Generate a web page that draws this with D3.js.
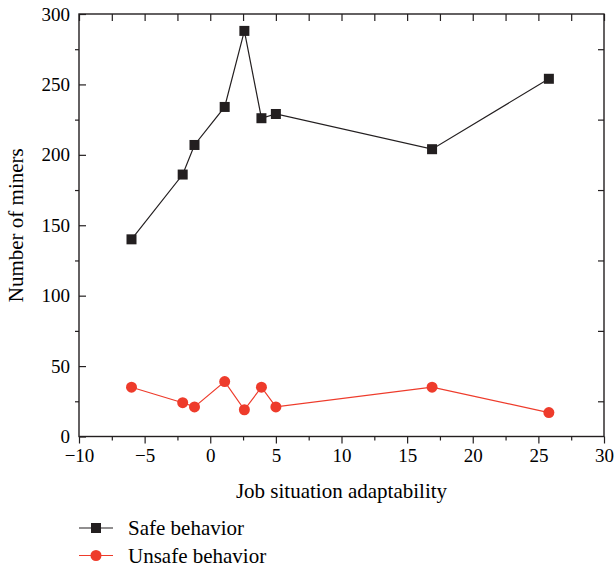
<!DOCTYPE html>
<html>
<head>
<meta charset="utf-8">
<script src="https://cdn.jsdelivr.net/npm/d3@7"></script>
<style>
  body { margin: 0; background: #fff; }
</style>
</head>
<body>
<div id="chart"></div>
<script>
// data
var xValues = [-6, -2.1, -1.2, 1.1, 2.6, 3.9, 5, 16.9, 25.8];
var safeValues = [140, 186, 207, 234, 288, 226, 229, 204, 254];
var unsafeValues = [35, 24, 21, 39, 19, 35, 21, 35, 17];
var seriesNames = ['Safe behavior', 'Unsafe behavior'];
var xTicks = [-10, -5, 0, 5, 10, 15, 20, 25, 30];
var yTicks = [0, 50, 100, 150, 200, 250, 300];

var width = 615, height = 567;
var margin = {left: 79, right: 11, top: 14, bottom: 130.5};
var ink = '#231f20', red = '#ee3b2b';
var serif = '"Liberation Serif"';

var svg = d3.select('#chart').append('svg')
  .attr('width', width)
  .attr('height', height);

var x = d3.scaleLinear().domain([-10, 30]).range([margin.left, width - margin.right]);
var y = d3.scaleLinear().domain([0, 300]).range([height - margin.bottom, margin.top]);

var minorX = d3.range(-7.5, 30, 5);
var minorY = d3.range(25, 300, 50);

function styleAxis(g) {
  g.attr('font-family', null).attr('font-size', null);
  g.select('.domain').remove();
  g.selectAll('line').attr('stroke', ink).attr('stroke-width', 1.2);
  g.selectAll('text')
    .attr('fill', '#000')
    .style('font-size', '19px')
    .style('font-family', serif);
}

// bottom: major + minor outward
svg.append('g')
  .attr('transform', 'translate(0,' + y(0) + ')')
  .call(d3.axisBottom(x).tickValues(xTicks).tickSize(7).tickPadding(5)
    .tickFormat(function(d) { return d < 0 ? '\u2212' + Math.abs(d) : d; }))
  .call(styleAxis);
svg.append('g')
  .attr('transform', 'translate(0,' + y(0) + ')')
  .call(d3.axisBottom(x).tickValues(minorX).tickSize(4).tickFormat(''))
  .call(styleAxis);

// top: all inward
svg.append('g')
  .attr('transform', 'translate(0,' + y(300) + ')')
  .call(d3.axisTop(x).tickValues(xTicks.concat(minorX)).tickSize(-7).tickFormat(''))
  .call(styleAxis);

// left: major inward, minor outward
svg.append('g')
  .attr('transform', 'translate(' + x(-10) + ',0)')
  .call(d3.axisLeft(y).tickValues(yTicks).tickSize(0).tickPadding(9))
  .call(styleAxis);
svg.append('g')
  .attr('transform', 'translate(' + x(-10) + ',0)')
  .call(d3.axisLeft(y).tickValues(yTicks).tickSize(-7).tickFormat(''))
  .call(styleAxis);
svg.append('g')
  .attr('transform', 'translate(' + x(-10) + ',0)')
  .call(d3.axisLeft(y).tickValues(minorY).tickSize(4).tickFormat(''))
  .call(styleAxis);

// right: inward at the odd quarters
svg.append('g')
  .attr('transform', 'translate(' + x(30) + ',0)')
  .call(d3.axisRight(y).tickValues(minorY).tickSize(-6).tickFormat(''))
  .call(styleAxis);

// frame
svg.append('rect')
  .attr('x', x(-10)).attr('y', y(300))
  .attr('width', x(30) - x(-10)).attr('height', y(0) - y(300))
  .attr('fill', 'none').attr('stroke', ink).attr('stroke-width', 1.4);

var line = d3.line()
  .x(function(d) { return x(d[0]); })
  .y(function(d) { return y(d[1]); });

var safe = d3.zip(xValues, safeValues);
var unsafe = d3.zip(xValues, unsafeValues);

svg.append('path').datum(safe)
  .attr('d', line).attr('fill', 'none').attr('stroke', ink).attr('stroke-width', 1.2);
svg.append('path').datum(unsafe)
  .attr('d', line).attr('fill', 'none').attr('stroke', red).attr('stroke-width', 1.2);

var sq = 10;
svg.selectAll('rect.safe').data(safe).enter()
  .append('rect')
  .attr('class', 'safe')
  .attr('x', function(d) { return x(d[0]) - sq / 2; })
  .attr('y', function(d) { return y(d[1]) - sq / 2; })
  .attr('width', sq).attr('height', sq)
  .attr('fill', ink);

svg.selectAll('circle.unsafe').data(unsafe).enter()
  .append('circle')
  .attr('class', 'unsafe')
  .attr('cx', function(d) { return x(d[0]); })
  .attr('cy', function(d) { return y(d[1]); })
  .attr('r', 5.5)
  .attr('fill', red);

// axis titles
svg.append('text')
  .attr('x', (x(-10) + x(30)) / 2)
  .attr('y', 498)
  .attr('text-anchor', 'middle')
  .style('font-family', serif)
  .style('font-size', '21px')
  .text('Job situation adaptability');

svg.append('text')
  .attr('transform', 'translate(23,' + y(150) + ') rotate(-90)')
  .attr('text-anchor', 'middle')
  .style('font-family', serif)
  .style('font-size', '21px')
  .text('Number of miners');

// legend
var legend = svg.append('g');
seriesNames.forEach(function(name, i) {
  var ly = 528 + i * 27.5;
  var col = i === 0 ? ink : red;
  legend.append('line')
    .attr('x1', 79).attr('x2', 113).attr('y1', ly).attr('y2', ly)
    .attr('stroke', col).attr('stroke-width', 1.2);
  if (i === 0) {
    legend.append('rect')
      .attr('x', 96 - sq / 2).attr('y', ly - sq / 2)
      .attr('width', sq).attr('height', sq).attr('fill', col);
  } else {
    legend.append('circle')
      .attr('cx', 96).attr('cy', ly).attr('r', 5.5).attr('fill', col);
  }
  legend.append('text')
    .attr('x', 128).attr('y', ly + 7)
    .style('font-family', serif)
    .style('font-size', '21px')
    .text(name);
});
</script>
</body>
</html>
